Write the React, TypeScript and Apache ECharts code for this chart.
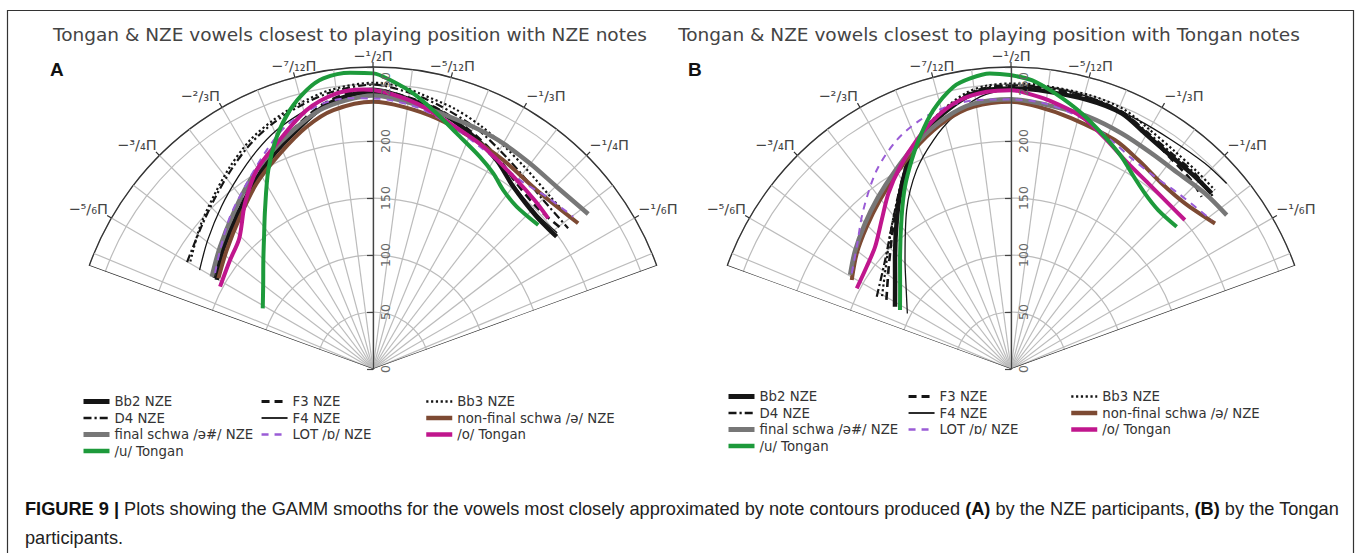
import React, { useEffect, useRef } from 'react';
import * as echarts from 'echarts';

// ---------- axis values ----------
const radiusMax = 265;
const radiusInterval = 50;
const angleMin = -160; // degrees, value = -(screen angle)
const angleMax = -20;
const angleLabelValues = [-150, -135, -120, -105, -90, -75, -60, -45, -30];
const angleTickLabels = ['−⁵/₆Π', '−³/₄Π', '−²/₃Π', '−⁷/₁₂Π', '−¹/₂Π', '−⁵/₁₂Π', '−¹/₃Π', '−¹/₄Π', '−¹/₆Π'];
const spokeAngles = [-157.5, -150, -142.5, -135, -127.5, -120, -112.5, -105, -97.5, -90, -82.5, -75, -67.5, -60, -52.5, -45, -37.5, -30, -22.5];

const titleA = 'Tongan & NZE vowels closest to playing position with NZE notes';
const titleB = 'Tongan & NZE vowels closest to playing position with Tongan notes';

const seriesNames = ['Bb2 NZE', 'F3 NZE', 'Bb3 NZE', 'D4 NZE', 'F4 NZE', 'non-final schwa /ə/ NZE', 'final schwa /ə#/ NZE', 'LOT /ɒ/ NZE', '/o/ Tongan', '/u/ Tongan'];

// ---------- curves: [angle (deg, negative), radius] ----------
// Panel A (NZE notes)
const A_Bb2 = [[-150.3,157.8],[-142.6,167.1],[-132.8,178.2],[-123.6,192.1],[-115.5,206.3],[-107.7,220.1],[-100.7,234.2],[-94.8,241.2],[-90,243],[-83.6,238.9],[-76.2,234],[-67.6,223.6],[-59.4,213],[-52.4,201.8],[-42.9,196.1],[-35.8,198.6]];
const A_F3 = [[-150.2,161],[-142.5,170],[-133,181],[-124,195],[-115.5,209],[-107.7,223],[-100.7,236.5],[-94.8,243.5],[-90,245.5],[-83.6,241],[-76.2,235.5],[-67.6,225.5],[-59.4,215.5],[-52.4,206],[-44,202],[-37,206]];
const A_Bb3 = [[-149.5,186],[-140.6,196.5],[-132.8,206.1],[-125.3,217.3],[-118.2,228],[-111.8,235.3],[-105.4,241.7],[-98.8,247.6],[-90,251.2],[-84,249],[-80.2,245],[-72.8,239.5],[-66.2,233.5],[-59.6,227],[-52.3,221],[-44.2,217],[-40,217]];
const A_D4 = [[-150.1,188.2],[-141,195],[-133,204],[-125.5,214.5],[-118.5,225],[-112,233],[-105.5,239.5],[-98.8,245.5],[-90,249.5],[-83.7,245.5],[-76.4,239],[-67,230],[-60,222],[-52,214.5],[-45,210.5],[-35.8,211.1]];
const A_F4 = [[-150.3,175.2],[-142,184],[-133,195],[-125,206],[-118,217],[-112,226],[-105,234],[-98,243],[-90,246.5],[-83.6,241.5],[-76,235],[-67.6,224.5],[-59.4,213.5],[-52.4,203],[-43,198],[-36.5,201]];
const A_schwaNF = [[-149.6,157.3],[-140.9,165.4],[-131.1,177.4],[-122.1,192.2],[-113.3,206],[-105.3,220.4],[-98.7,229.8],[-90,234.5],[-83.4,231.6],[-75.7,226.9],[-67.3,220.8],[-58,216],[-47.6,212.8],[-35.4,220.8]];
const A_schwaF = [[-150.2,163],[-141.4,171.8],[-131.9,183.5],[-123,197.8],[-115.5,209.7],[-108.4,221],[-101.6,231.9],[-95.6,237.1],[-90,240],[-86.4,238.5],[-79.8,234.5],[-72.2,231],[-65.9,229.7],[-60,228.6],[-52.6,227],[-44.8,227],[-35.75,232.7]];
const A_LOT = [[-148.7,162.2],[-142.1,170],[-133.2,183.3],[-124.2,197],[-115.9,213.5],[-109.4,227],[-101.3,236.5],[-95.5,238.6],[-90,237.4],[-86.4,236.4],[-79.8,232.4],[-71.7,223.9],[-64.3,216.4],[-59.4,213],[-52.1,210],[-44.8,214.6],[-37.25,220.7]];
const A_o = [[-151.7,152.4],[-142.7,157.7],[-135.7,164],[-127.7,183.7],[-120.3,202.2],[-113.1,215.2],[-104.4,234.5],[-97.5,243.9],[-92,245.5],[-87.9,243.4],[-80.7,236.2],[-72.6,225.9],[-63.6,217.7],[-52.75,208.3],[-46,205],[-40.7,202.8]];
const A_u = [[-151.2,110.4],[-142.6,121.3],[-135.2,135.6],[-129.1,151.5],[-124.2,168.6],[-117.75,197.3],[-112.5,220.6],[-107.8,238.6],[-103.4,251.6],[-99.7,258.7],[-94.4,260.7],[-89.9,259.4],[-86.6,254],[-81.7,244.4],[-76,231.1],[-70.45,219.4],[-63.25,208.5],[-58.4,201.5],[-53.95,194.2],[-48.5,190.2],[-41.06,192.3]];

// Panel B (Tongan notes)
const B_Bb2 = [[-151.8,115.5],[-143.5,126.5],[-136.8,139.6],[-127.5,164.7],[-121,186.5],[-115.4,206.2],[-110.4,220.6],[-104.8,232],[-99.2,242],[-95,245.7],[-90,246.2],[-84.4,245.9],[-74,245.5],[-66.6,244.4],[-60.4,237.8],[-52.9,233.6],[-46.3,233.5],[-41.2,234]];
const B_F3 = [[-151,125],[-140,140],[-130,161],[-121.2,186.8],[-115.4,206.8],[-110.4,221.5],[-104.8,233],[-99.2,243],[-95,247],[-90,248],[-84.4,248],[-74,247],[-66.6,245.5],[-60.4,239],[-52.9,232],[-46.3,229],[-42.1,225.4]];
const B_Bb3 = [[-150.5,130],[-140,143],[-130,163],[-121.2,187],[-115.4,207.5],[-110.4,222.5],[-104.8,235],[-99.2,245.5],[-95,249.5],[-90,250.5],[-84.4,250.5],[-74,250],[-66.6,248.5],[-60.4,243],[-52.9,239],[-46.3,238],[-41.3,238]];
const B_D4 = [[-151.7,133.8],[-139.1,146.1],[-130,162.9],[-121.3,187.2],[-115.4,207.5],[-110.4,222],[-104.8,234],[-99.2,244],[-95,248],[-90,249],[-84.4,249],[-74,248],[-66.6,246],[-60.4,240],[-52.9,236],[-46.3,235.5],[-40.4,233]];
const B_F4 = [[-151.8,103.2],[-141.9,117],[-134.2,133.4],[-123.3,166.8],[-115.4,193.2],[-108.7,212.1],[-102.9,227],[-96.5,240.4],[-90,246],[-84.5,248.8],[-74.2,248.3],[-62.9,245.3],[-54.9,245.4],[-46.7,248],[-40.7,249.6]];
const B_schwaNF = [[-150.8,160.1],[-143.1,169.2],[-135.4,177.8],[-127.8,187.6],[-120.3,198.8],[-112,213.5],[-104.5,225.6],[-98.2,232.5],[-90,234.5],[-84,231.3],[-76.4,226.3],[-65.6,220.6],[-58.65,214.7],[-50.9,209.8],[-43.6,210.8],[-35.5,219.9]];
const B_schwaF = [[-149.7,163.5],[-143,171.5],[-135.4,180.5],[-127.8,190.5],[-120.3,201.5],[-112,216],[-104.5,228],[-98.2,235],[-90,236.6],[-80.5,233.3],[-73,231.5],[-64.8,228.4],[-56.9,225.9],[-49.5,225.9],[-42.2,229.6],[-35.5,232.5]];
const B_LOT = [[-149,163],[-141.6,172.7],[-132.9,190.4],[-124,210.6],[-116.5,224.5],[-110.1,232.5],[-103.8,236.9],[-97.3,237.9],[-90,236.6],[-82,234.5],[-72.6,227.3],[-65.3,218],[-60.2,213],[-53.2,210.7],[-46.4,212.8],[-36.6,219.3]];
const B_o = [[-152.4,152.7],[-144.7,155.2],[-138,160.4],[-130.95,173.1],[-124.9,188],[-118.75,202.4],[-112.4,217.2],[-106.4,230.7],[-100.7,240.2],[-95,244.2],[-90,244.7],[-87.8,243.4],[-82.1,238.2],[-74.3,229.8],[-67.8,218.5],[-61.4,208.8],[-53.5,202.6],[-46.5,200.4],[-40.6,200.9]];
const B_u = [[-152,110.3],[-143.4,121.2],[-135.5,136.5],[-125.7,164.5],[-120.2,185],[-115.4,203],[-111.4,218.9],[-106.7,237.2],[-101.5,252.8],[-98,257.5],[-94.1,260],[-90.2,257.9],[-85.9,254.1],[-80.9,244.9],[-74.5,232.7],[-68,219.8],[-62.5,210],[-58.3,201.7],[-52.7,193.8],[-47.2,190.1],[-40.65,191.6]];

const panelAData = [A_Bb2, A_F3, A_Bb3, A_D4, A_F4, A_schwaNF, A_schwaF, A_LOT, A_o, A_u];
const panelBData = [B_Bb2, B_F3, B_Bb3, B_D4, B_F4, B_schwaNF, B_schwaF, B_LOT, B_o, B_u];

// ---------- styles ----------
const lineStyles: Record<string, any> = {
  'Bb2 NZE': { color: '#151515', width: 4.5, type: 'solid' },
  'F3 NZE': { color: '#151515', width: 2.6, type: [8, 5] },
  'Bb3 NZE': { color: '#151515', width: 2.2, type: [2.2, 2.6] },
  'D4 NZE': { color: '#151515', width: 2.2, type: [8, 3, 2.2, 3] },
  'F4 NZE': { color: '#151515', width: 1.3, type: 'solid' },
  'non-final schwa /ə/ NZE': { color: '#7d4a33', width: 4, type: 'solid' },
  'final schwa /ə#/ NZE': { color: '#777777', width: 4.5, type: 'solid' },
  'LOT /ɒ/ NZE': { color: '#9a5cd6', width: 2, type: [7, 6] },
  '/o/ Tongan': { color: '#c0168d', width: 4, type: 'solid' },
  '/u/ Tongan': { color: '#1d9a3b', width: 4, type: 'solid' },
};
const drawOrder = ['Bb2 NZE', 'F3 NZE', 'Bb3 NZE', 'D4 NZE', 'F4 NZE', 'non-final schwa /ə/ NZE', 'final schwa /ə#/ NZE', 'LOT /ɒ/ NZE', '/o/ Tongan', '/u/ Tongan'];

const legendCols = [
  ['Bb2 NZE', 'D4 NZE', 'final schwa /ə#/ NZE', '/u/ Tongan'],
  ['F3 NZE', 'F4 NZE', 'LOT /ɒ/ NZE'],
  ['Bb3 NZE', 'non-final schwa /ə/ NZE', '/o/ Tongan'],
];

const CY = 369;
const R_PX = 302;
const panels = [
  { cx: 373, data: panelAData, legendLeft: [81, 260, 424], legendTop: 395 },
  { cx: 1011, data: panelBData, legendLeft: [726, 907, 1069], legendTop: 390 },
];

function buildOption() {
  const polar: any[] = [];
  const angleAxis: any[] = [];
  const radiusAxis: any[] = [];
  const series: any[] = [];
  const legend: any[] = [];

  panels.forEach((p, pi) => {
    const main = pi * 2;
    const lab = pi * 2 + 1;
    polar.push({ center: [p.cx, CY], radius: R_PX });
    polar.push({ center: [p.cx, CY], radius: R_PX });

    angleAxis.push({
      polarIndex: main, type: 'value', min: angleMin, max: angleMax,
      startAngle: 160, endAngle: 20, clockwise: true,
      axisLine: { show: true, lineStyle: { color: '#333', width: 1.3 } },
      axisTick: { show: true, customValues: angleLabelValues, length: 5, lineStyle: { color: '#333', width: 1.2 } },
      axisLabel: {
        show: true, customValues: angleLabelValues, margin: 4,
        formatter: (v: number) => {
          const i = angleLabelValues.indexOf(Math.round(v));
          return i >= 0 ? angleTickLabels[i] : '';
        },
        fontFamily: 'DejaVu Sans', fontSize: 14.5, color: '#444',
      },
      splitLine: { show: false },
    });
    angleAxis.push({
      polarIndex: lab, type: 'value', min: 0, max: 1, startAngle: 90, endAngle: 20, show: false,
    });

    radiusAxis.push({
      polarIndex: main, type: 'value', min: 0, max: radiusMax, interval: radiusInterval,
      axisLine: { show: false }, axisTick: { show: false }, axisLabel: { show: false },
      splitLine: { show: true, lineStyle: { color: '#bcbcbc', width: 1.2 } },
    });
    radiusAxis.push({
      polarIndex: lab, type: 'value', min: 0, max: radiusMax, interval: radiusInterval, z: 3,
      axisLine: { show: true, lineStyle: { color: '#444', width: 1.3 } },
      axisTick: { show: true, inside: true, length: 6, lineStyle: { color: '#444', width: 1.2 } },
      axisLabel: {
        rotate: 90, margin: -6, verticalAlign: 'top',
        formatter: (v: number) => (v % radiusInterval === 0 ? String(v) : ''),
        fontFamily: 'DejaVu Sans', fontSize: 12.5, color: '#666',
      },
      splitLine: { show: false },
    });

    spokeAngles.forEach((a) => {
      series.push({
        type: 'line', coordinateSystem: 'polar', polarIndex: main, silent: true, z: 1,
        symbol: 'none', clip: false,
        lineStyle: { color: '#bcbcbc', width: 1.2 },
        data: [[0, a], [radiusMax, a]],
      });
    });
    [angleMin, angleMax].forEach((a) => {
      series.push({
        type: 'line', coordinateSystem: 'polar', polarIndex: main, silent: true, z: 1,
        symbol: 'none', clip: false,
        lineStyle: { color: '#333', width: 1.3 },
        data: [[0, a], [radiusMax, a]],
      });
    });

    drawOrder.forEach((name) => {
      const idx = seriesNames.indexOf(name);
      const pts = p.data[idx];
      series.push({
        name, type: 'line', coordinateSystem: 'polar', polarIndex: main, z: 2 + idx * 0.01,
        symbol: 'none', showSymbol: false, smooth: 0.3, clip: false,
        lineStyle: { ...lineStyles[name] },
        itemStyle: { color: lineStyles[name].color },
        data: pts.map(([a, r]) => [r, a]),
      });
    });

    legendCols.forEach((names, ci) => {
      legend.push({
        orient: 'vertical', left: p.legendLeft[ci], top: p.legendTop, padding: 0,
        itemWidth: 26, itemHeight: 14, itemGap: 3.5, selectedMode: false,
        textStyle: { fontFamily: 'DejaVu Sans', fontSize: 13.3, color: '#333' },
        data: names.map((n) => ({
          name: n,
          lineStyle: { width: Math.min(lineStyles[n].width + 0.5, 5) },
          itemStyle: { opacity: 0, color: 'rgba(0,0,0,0)', borderWidth: 0 },
        })),
      });
    });
  });

  return {
    animation: false,
    backgroundColor: '#ffffff',
    title: [
      { text: titleA, left: 350, top: 25, textAlign: 'center', padding: 0,
        textStyle: { fontFamily: 'DejaVu Sans', fontSize: 18.5, fontWeight: 'normal', color: '#444' } },
      { text: titleB, left: 989, top: 25, textAlign: 'center', padding: 0,
        textStyle: { fontFamily: 'DejaVu Sans', fontSize: 18.5, fontWeight: 'normal', color: '#444' } },
    ],
    polar, angleAxis, radiusAxis, series, legend,
    graphic: [
      { type: 'rect', shape: { x: 7.5, y: 10.5, width: 1346, height: 600 }, style: { fill: 'none', stroke: '#333', lineWidth: 1.2 }, silent: true },
      { type: 'text', x: 50, y: 60, style: { text: 'A', fontFamily: 'Liberation Sans', fontWeight: 'bold', fontSize: 19, fill: '#111' } },
      { type: 'text', x: 688, y: 60, style: { text: 'B', fontFamily: 'Liberation Sans', fontWeight: 'bold', fontSize: 19, fill: '#111' } },
      {
        type: 'text', x: 25, y: 494,
        style: {
          text: '{b|FIGURE 9 |} Plots showing the GAMM smooths for the vowels most closely approximated by note contours produced {b|(A)} by the NZE participants, {b|(B)} by the Tongan\nparticipants.',
          fontFamily: 'Liberation Sans', fontSize: 18.2, fill: '#222', lineHeight: 29,
          rich: { b: { fontFamily: 'Liberation Sans', fontWeight: 'bold', fontSize: 18.2, fill: '#111', lineHeight: 29 } },
        },
      },
    ],
  };
}

export default function App() {
  const ref = useRef<HTMLDivElement>(null);
  useEffect(() => {
    const chart = echarts.init(ref.current!, null, { renderer: 'svg' });
    chart.setOption(buildOption() as any);
    return () => chart.dispose();
  }, []);
  return <div ref={ref} style={{ position: 'absolute', left: 0, top: 0, width: 1358, height: 553, background: '#fff' }} />;
}
